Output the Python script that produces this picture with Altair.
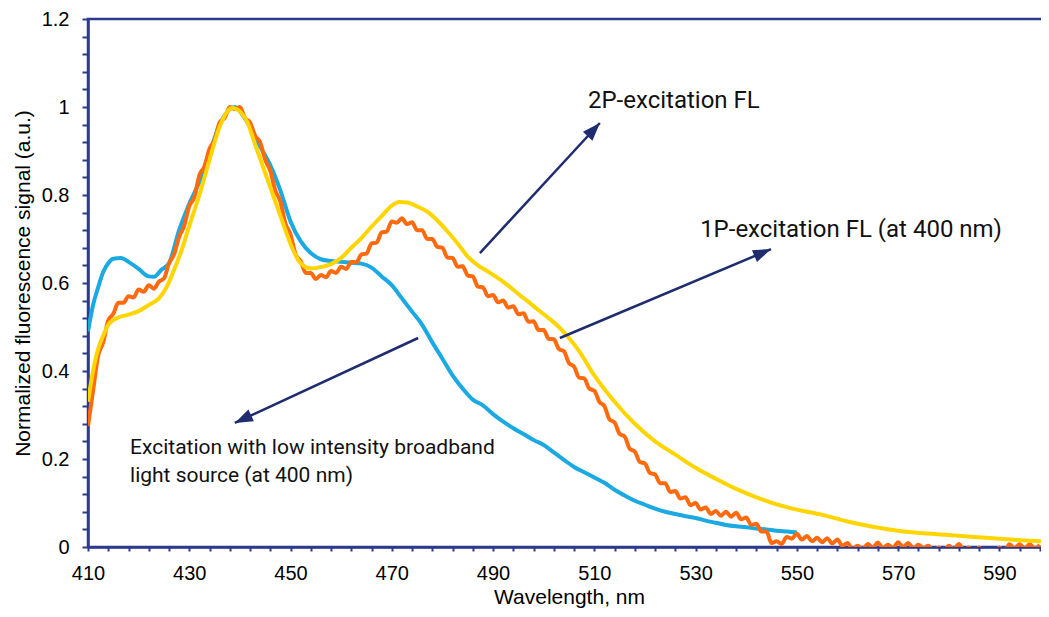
import altair as alt
import pandas as pd

# ---------------- data ----------------
blue_nm = [410, 411, 412, 413, 414, 415, 416.5, 418, 420, 422, 423, 424.5, 426, 428, 430, 432, 434, 436,
           438, 439, 440, 442, 444, 446, 448, 450, 452, 454, 456, 458, 460, 462, 464, 466, 468, 470,
           472, 474, 476, 478, 480, 482, 484, 486, 488, 490, 492, 494, 496, 498, 500, 502, 504, 506,
           508, 510, 512, 514, 516, 518, 520, 522, 524, 526, 528, 530, 532, 534, 536, 538, 540, 542,
           544, 546, 548, 550]
blue_val = [0.49, 0.55, 0.59, 0.625, 0.645, 0.655, 0.657, 0.648, 0.632, 0.615, 0.614, 0.63, 0.645, 0.72,
            0.78, 0.83, 0.895, 0.96, 0.995, 1.0, 0.99, 0.955, 0.91, 0.868, 0.81, 0.74, 0.695, 0.668,
            0.654, 0.65, 0.648, 0.646, 0.644, 0.635, 0.615, 0.595, 0.565, 0.535, 0.505, 0.465, 0.428,
            0.39, 0.36, 0.335, 0.322, 0.302, 0.285, 0.27, 0.257, 0.243, 0.232, 0.215, 0.198, 0.182,
            0.17, 0.158, 0.146, 0.13, 0.117, 0.105, 0.096, 0.087, 0.08, 0.075, 0.07, 0.066, 0.06,
            0.055, 0.05, 0.047, 0.045, 0.042, 0.04, 0.037, 0.035, 0.033]

yellow_nm = [410, 411, 412, 413, 414, 415, 416, 418, 420, 422, 424, 425.5, 427, 428.5, 430, 432, 434, 436,
             437.5, 438.5, 440, 441.5, 443, 445, 447, 449, 450.5, 452, 454, 456, 458, 460, 462, 464,
             466, 468, 470, 471.5, 473, 475, 477, 479, 481, 483, 485, 487, 489, 491, 493, 495, 497,
             499, 501, 503, 505, 507, 510, 514, 518, 522, 526, 530, 534, 538, 542, 546, 550, 555,
             560, 565, 570, 575, 580, 585, 590, 595, 600]
yellow_val = [0.33, 0.40, 0.45, 0.48, 0.505, 0.516, 0.522, 0.528, 0.536, 0.55, 0.565, 0.59, 0.63, 0.675,
              0.73, 0.80, 0.88, 0.955, 0.99, 0.998, 0.99, 0.965, 0.915, 0.85, 0.785, 0.72, 0.675,
              0.645, 0.633, 0.636, 0.643, 0.657, 0.68, 0.702, 0.728, 0.752, 0.776, 0.784, 0.783,
              0.774, 0.762, 0.742, 0.717, 0.69, 0.66, 0.64, 0.626, 0.611, 0.594, 0.575, 0.557,
              0.538, 0.52, 0.50, 0.475, 0.445, 0.39, 0.33, 0.28, 0.24, 0.21, 0.18, 0.155, 0.132,
              0.113, 0.097, 0.085, 0.073, 0.058, 0.046, 0.037, 0.031, 0.027, 0.023, 0.019, 0.015,
              0.012]

orange_nm = list(range(410, 599))
orange_val = [
    0.275, 0.355, 0.435, 0.465, 0.515, 0.530, 0.555, 0.555, 0.570, 0.567,   # 410-419
    0.585, 0.580, 0.595, 0.587, 0.603, 0.610, 0.645, 0.665, 0.705, 0.730,   # 420-429
    0.775, 0.795, 0.845, 0.865, 0.905, 0.925, 0.965, 0.975, 1.000, 0.995,   # 430-439
    1.000, 0.975, 0.965, 0.935, 0.920, 0.880, 0.855, 0.810, 0.785, 0.735,   # 440-449
    0.710, 0.665, 0.650, 0.623, 0.623, 0.609, 0.618, 0.613, 0.627, 0.623,   # 450-459
    0.637, 0.632, 0.648, 0.647, 0.665, 0.667, 0.690, 0.692, 0.715, 0.717,   # 460-469
    0.740, 0.737, 0.747, 0.734, 0.738, 0.720, 0.720, 0.700, 0.700, 0.682,   # 470-479
    0.680, 0.658, 0.657, 0.637, 0.638, 0.617, 0.615, 0.592, 0.590, 0.570,   # 480-489
    0.573, 0.556, 0.560, 0.544, 0.547, 0.529, 0.531, 0.512, 0.513, 0.493,   # 490-499
    0.493, 0.473, 0.472, 0.450, 0.445, 0.418, 0.410, 0.385, 0.383, 0.360,   # 500-509
    0.355, 0.330, 0.320, 0.290, 0.283, 0.257, 0.251, 0.223, 0.217, 0.193,   # 510-519
    0.190, 0.168, 0.165, 0.145, 0.145, 0.125, 0.127, 0.110, 0.113, 0.095,   # 520-529
    0.100, 0.085, 0.090, 0.075, 0.082, 0.071, 0.080, 0.069, 0.078, 0.063,   # 530-539
    0.067, 0.050, 0.053, 0.035, 0.035, 0.009, 0.013, 0.007, 0.023, 0.019,   # 540-549
    0.030, 0.017, 0.025, 0.013, 0.021, 0.011, 0.020, 0.008, 0.017, 0.003,   # 550-559
    0.009, -0.005, 0.003, -0.005, 0.007, -0.001, 0.010, -0.002, 0.005, -0.002,  # 560-569
    0.011, 0.000, 0.009, -0.003, 0.005, -0.002, 0.003, -0.010, -0.001, -0.009,  # 570-579
    0.003, -0.005, 0.007, -0.007, -0.001, -0.013, -0.001, -0.013, -0.005, -0.013,  # 580-589
    -0.001, -0.009, 0.006, -0.003, 0.006, -0.003, 0.006, -0.003, 0.005          # 590-598
]

# arrows (start -> tip), in data coordinates
arrow_x = [487.4, 503.2, 475.2]
arrow_y = [0.668, 0.475, 0.475]
arrow_x2 = [511.1, 544.9, 439.0]
arrow_y2 = [0.9636, 0.677, 0.282]
arrow_angle = [42.7, 67.1, 245.1]

big_text = ["2P-excitation FL", "1P-excitation FL (at 400 nm)"]
big_text_x = [508.75, 530.9]
big_text_y = [0.997, 0.705]
small_text = ["Excitation with low intensity broadband", "light source (at 400 nm)"]
small_text_x = [418.3, 418.3]
small_text_y = [0.2114, 0.1484]

x_ticks = [410 + 4 * i for i in range(48)]
y_ticks = [round(0.04 * i, 2) for i in range(31)]

NAVY = "#2D3A8C"
ARROW = "#1F2C6E"
BLUE = "#1BA9E1"
ORANGE = "#FF6A0E"
YELLOW = "#FFD500"
AX_FONT = "Liberation Sans"

xscale = alt.Scale(domain=[410, 600], nice=False, zero=False)
yscale = alt.Scale(domain=[0, 1.2], nice=False, zero=True)

x_axis = alt.Axis(values=x_ticks,
                  labelExpr="(datum.value - 410) % 20 == 0 ? datum.value : ''",
                  tickSize=4, tickWidth=2, tickColor=NAVY, domainColor=NAVY, domainWidth=2.5,
                  labelFont=AX_FONT, labelFontSize=20, labelColor="black", labelPadding=12,
                  labelFlush=False, labelOverlap=False, grid=False,
                  title="Wavelength, nm", titleFont=AX_FONT, titleFontSize=21,
                  titleFontWeight="normal", titleColor="black", titlePadding=3)
y_axis = alt.Axis(values=y_ticks,
                  labelExpr="abs(datum.value * 5 - round(datum.value * 5)) < 0.001 ? format(datum.value, '~g') : ''",
                  tickSize=6, tickWidth=2, tickColor=NAVY, domainColor=NAVY, domainWidth=2.5,
                  labelFont=AX_FONT, labelFontSize=20, labelColor="black", labelPadding=13,
                  labelOverlap=False, grid=False,
                  title="Normalized fluorescence signal (a.u.)", titleFont=AX_FONT, titleFontSize=21,
                  titleFontWeight="normal", titleColor="black", titlePadding=8)


def X(field):
    return alt.X(field, type="quantitative", scale=xscale, axis=x_axis)


def Y(field):
    return alt.Y(field, type="quantitative", scale=yscale, axis=y_axis)


blue_df = pd.DataFrame({"nm": blue_nm, "v": blue_val})
orange_df = pd.DataFrame({"nm": orange_nm, "v": orange_val})
yellow_df = pd.DataFrame({"nm": yellow_nm, "v": yellow_val})

blue = alt.Chart(blue_df).mark_line(color=BLUE, strokeWidth=4, clip=True,
                                    interpolate="monotone").encode(x=X("nm"), y=Y("v"))
orange = alt.Chart(orange_df).mark_line(color=ORANGE, strokeWidth=4, clip=True,
                                        interpolate="monotone").encode(x=X("nm"), y=Y("v"))
yellow = alt.Chart(yellow_df).mark_line(color=YELLOW, strokeWidth=4, clip=True,
                                        interpolate="monotone").encode(x=X("nm"), y=Y("v"))

arrows_df = pd.DataFrame({"x": arrow_x, "y": arrow_y, "x2": arrow_x2, "y2": arrow_y2,
                          "ang": arrow_angle})
shafts = alt.Chart(arrows_df).mark_rule(color=ARROW, strokeWidth=2.5).encode(
    x=X("x"), y=Y("y"), x2="x2:Q", y2="y2:Q",
)
heads = alt.Chart(arrows_df).mark_point(
    shape="M0,0L0.72,2L-0.72,2Z", filled=True, size=324, color=ARROW, opacity=1, strokeWidth=0
).encode(
    x=X("x2"), y=Y("y2"),
    angle=alt.Angle("ang:Q", scale=None),
)

big_df = pd.DataFrame({"t": big_text, "x": big_text_x, "y": big_text_y})
small_df = pd.DataFrame({"t": small_text, "x": small_text_x, "y": small_text_y})
big_labels = alt.Chart(big_df).mark_text(align="left", baseline="alphabetic", font="Roboto",
                                         fontSize=24, color="#111111").encode(
    x=X("x"), y=Y("y"), text="t:N")
small_labels = alt.Chart(small_df).mark_text(align="left", baseline="alphabetic", font="Roboto",
                                             fontSize=21, color="#111111").encode(
    x=X("x"), y=Y("y"), text="t:N")

chart = alt.layer(blue, orange, yellow, shafts, heads, big_labels, small_labels).properties(
    width=962, height=528,
    padding={"left": 80, "top": 11, "right": -9, "bottom": 62},
    autosize=alt.AutoSizeParams(type="none"),
    background="white",
).configure_view(stroke=NAVY, strokeWidth=2.5)

chart.save("out.html", embed_options={"renderer": "svg", "actions": False})
